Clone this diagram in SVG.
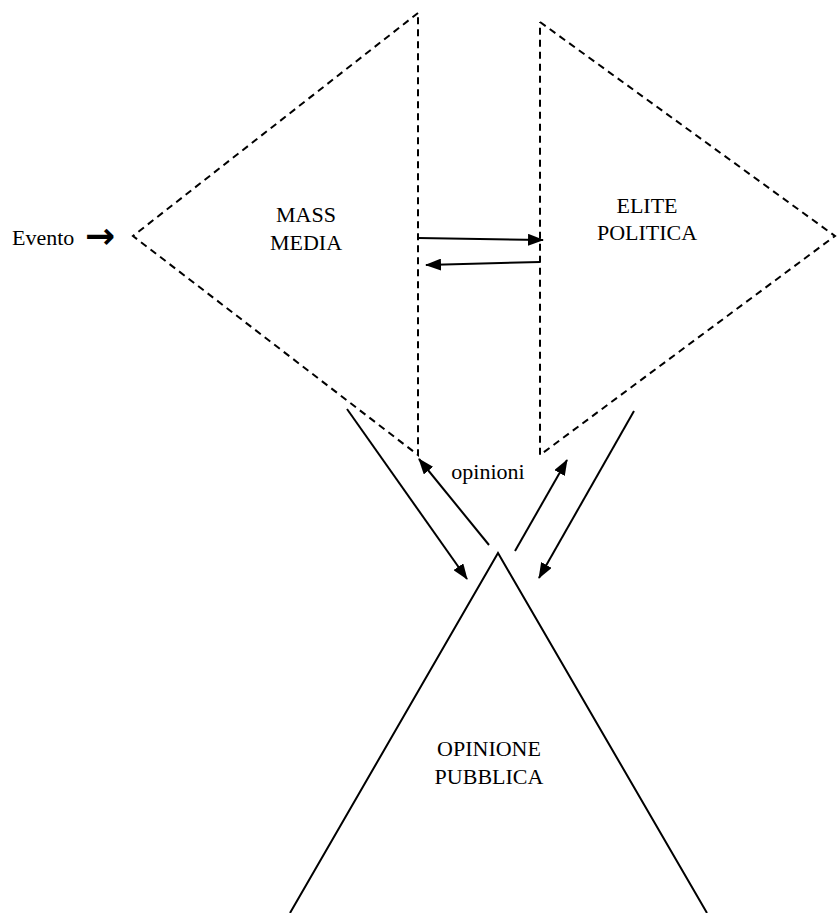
<svg xmlns="http://www.w3.org/2000/svg" width="837" height="913" viewBox="0 0 837 913">
<style>
.t{font-family:"Liberation Serif","Tinos","DejaVu Serif","Times New Roman",serif;font-size:22px;fill:#000}
.a{font-family:"DejaVu Sans",sans-serif;font-size:36px;font-weight:bold;fill:#000}
.d{fill:none;stroke:#000;stroke-width:2;stroke-dasharray:7 5}
.s{fill:none;stroke:#000;stroke-width:2}
</style>
<defs>
<marker id="ah" viewBox="0 0 16 12" refX="15" refY="6" markerWidth="16" markerHeight="12" markerUnits="userSpaceOnUse" orient="auto">
<path d="M0,0 L16,6 L0,12 Z" fill="#000"/>
</marker>
</defs>
<rect width="837" height="913" fill="#fff"/>
<g id="evento"><text class="t" x="12" y="245">Evento</text><text class="a" x="85" y="248">→</text></g>
<g id="mass-media">
<polyline class="d" points="418,13 133,236 418,455 418,13"/>
<text class="t" x="306" y="222" text-anchor="middle">MASS</text>
<text class="t" x="306" y="250" text-anchor="middle">MEDIA</text>
</g>
<g id="elite-politica">
<polyline class="d" points="540,22 835,236 540,455 540,22"/>
<text class="t" x="647" y="213" text-anchor="middle">ELITE</text>
<text class="t" x="647" y="240" text-anchor="middle">POLITICA</text>
</g>
<g id="opinione-pubblica">
<polyline class="s" points="290,913 498,553 707,913"/>
<text class="t" x="489" y="756" text-anchor="middle">OPINIONE</text>
<text class="t" x="489" y="784" text-anchor="middle">PUBBLICA</text>
</g>
<g id="connectors">
<line class="s" x1="418" y1="238" x2="543" y2="240" marker-end="url(#ah)"/>
<line class="s" x1="540" y1="262" x2="426" y2="265" marker-end="url(#ah)"/>
<line class="s" x1="347" y1="409" x2="467" y2="579" marker-end="url(#ah)"/>
<line class="s" x1="489" y1="545" x2="419" y2="459" marker-end="url(#ah)"/>
<line class="s" x1="515" y1="551" x2="567" y2="460" marker-end="url(#ah)"/>
<line class="s" x1="634" y1="411" x2="539" y2="578" marker-end="url(#ah)"/>
<text class="t" x="488" y="479" text-anchor="middle">opinioni</text>
</g>
</svg>
